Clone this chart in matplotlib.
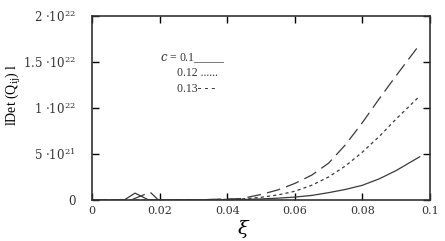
import matplotlib
matplotlib.use("Agg")
import matplotlib.pyplot as plt

# xi values and |Det(Qij)| (in units of 1e21) for each c
xi_a = [0.0, 0.0095, 0.0127, 0.0165, 0.02, 0.03, 0.044, 0.05, 0.055, 0.06, 0.065,
        0.07, 0.075, 0.08, 0.085, 0.09, 0.097]
det_a = [0.0, 0.0, 0.75, 0.05, 0.02, 0.02, 0.05, 0.12, 0.2, 0.32, 0.5,
         0.8, 1.15, 1.6, 2.3, 3.2, 4.7]

xi_b = [0.0, 0.02, 0.03, 0.044, 0.05, 0.055, 0.06, 0.065,
        0.07, 0.075, 0.08, 0.085, 0.09, 0.097]
det_b = [0.0, 0.0, 0.02, 0.1, 0.3, 0.55, 0.95, 1.6,
         2.5, 3.7, 5.2, 6.9, 8.8, 11.3]

xi_c = [0.0, 0.0115, 0.0172, 0.0195, 0.03, 0.044, 0.05, 0.055, 0.06, 0.065,
        0.07, 0.075, 0.08, 0.085, 0.09, 0.097]
det_c = [0.0, 0.0, 0.85, 0.05, 0.02, 0.15, 0.6, 1.1, 1.8, 2.7,
         4.0, 6.0, 8.4, 11.0, 13.5, 16.9]

xticks = [0, 0.02, 0.04, 0.06, 0.08, 0.1]
xticklabels = ["0", "0.02", "0.04", "0.06", "0.08", "0.1"]
yticks = [0, 5e21, 1e22, 1.5e22, 2e22]
yticklabels = ["0", "5 \u00b710$^{21}$", "1 \u00b710$^{22}$",
               "1.5 \u00b710$^{22}$", "2 \u00b710$^{22}$"]

plt.rcParams['font.family'] = ['DejaVu Serif']
plt.rcParams['mathtext.fontset'] = 'dejavuserif'

fig = plt.figure(figsize=(4.45, 2.41), dpi=100)
ax = fig.add_axes([0.207, 0.17, 0.759, 0.764])

ax.plot(xi_a, [v * 1e21 for v in det_a], color='#3a3a3a', lw=0.9)
ax.plot(xi_b, [v * 1e21 for v in det_b], color='#3a3a3a', lw=0.9,
        linestyle=(0, (2.5, 2.5)))
ax.plot(xi_c, [v * 1e21 for v in det_c], color='#3a3a3a', lw=0.9,
        linestyle=(0, (11, 5)))

ax.set_xlim(0, 0.1)
ax.set_ylim(0, 2e22)
ax.set_xticks(xticks)
ax.set_xticklabels(xticklabels)
ax.set_yticks(yticks)
ax.set_yticklabels(yticklabels, fontsize=8.5)
ax.tick_params(direction='in', top=True, right=True, length=5, width=1,
               labelsize=8, labelcolor='#333333')
ax.tick_params(axis='y', pad=12, labelsize=8.5)
ax.tick_params(axis='x', pad=4)

for s in ax.spines.values():
    s.set_color('#333333')
    s.set_linewidth(1.2)

ax.set_xlabel(r"$\xi$", fontsize=14)
ax.xaxis.set_label_coords(0.45, -0.095)
ax.set_ylabel("lDet (Q$_{\\mathrm{ij}}$) l", fontsize=10,
              family='Liberation Serif')
ax.yaxis.set_label_coords(-0.205, 0.57)

lkw = dict(fontsize=8.5, color='#333333', family='Liberation Serif', va='center')
ax.text(0.0201, 1.54e22, "$\\it{c}$ = 0.1_____", **lkw)
ax.text(0.0251, 1.38e22, "0.12 ......", **lkw)
ax.text(0.0251, 1.21e22, "0.13- - -", **lkw)

fig.savefig("out.png", dpi=100)
